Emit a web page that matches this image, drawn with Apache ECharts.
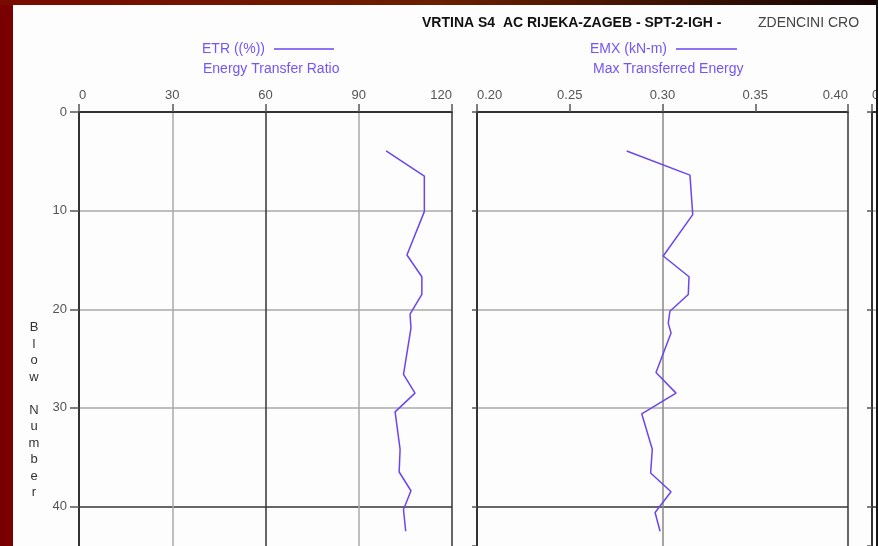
<!DOCTYPE html>
<html>
<head>
<meta charset="utf-8">
<script src="https://cdn.jsdelivr.net/npm/echarts@6/dist/echarts.min.js"></script>
<style>
html,body{margin:0;padding:0;background:#fdfdfd;}
#chart{width:878px;height:546px;}
</style>
</head>
<body>
<div id="chart"></div>
<script>
// ---- data ----
const etrBlow  = [3.95, 6.5, 10.1, 14.5, 16.7, 18.5, 20.5, 21.9, 26.6, 28.5, 30.4, 34.2, 36.5, 38.4, 40.3, 42.5];
const etrValue = [98.8, 111.1, 111.1, 105.5, 110.3, 110.3, 106.5, 106.8, 104.4, 108.1, 101.7, 103.3, 103.0, 106.8, 104.4, 105.1];

const emxBlow  = [3.95, 6.4, 10.4, 14.6, 16.7, 18.5, 20.2, 21.4, 22.4, 26.4, 28.5, 30.6, 34.2, 36.6, 38.5, 40.6, 42.5];
const emxValue = [0.2807, 0.3148, 0.3163, 0.3004, 0.3143, 0.3139, 0.3040, 0.3031, 0.3046, 0.2965, 0.3073, 0.2888, 0.2945, 0.2936, 0.3046, 0.2960, 0.2987];

const etrTicks = [0, 30, 60, 90, 120];
const emxTicks = [0.20, 0.25, 0.30, 0.35, 0.40];
const blowTicks = [0, 10, 20, 30, 40];

const titleMain = 'VRTINA S4  AC RIJEKA-ZAGEB - SPT-2-IGH -';
const titleSite = 'ZDENCINI CRO';
const etrLegend = ['ETR ((%))', 'Energy Transfer Ratio'];
const emxLegend = ['EMX (kN-m)', 'Max Transferred Energy'];
const yTitle = 'Blow Number';

// ---- chart ----
const FONT = 'Arial, "Liberation Sans", sans-serif';
const LINE = '#6a45f0';
const TXT = '#7455f5';

function zip(a, b) { return a.map((v, i) => [b[i], v]); }

function yAxisFor(grid, showLabels, tickLen) {
  return {
    type: 'value', gridIndex: grid, inverse: true,
    min: blowTicks[0], max: 44, interval: blowTicks[1] - blowTicks[0],
    axisLine: { show: true, onZero: false, lineStyle: { color: '#333', width: 2 } },
    axisTick: { show: true, length: tickLen, lineStyle: { color: '#555', width: 1.5 } },
    axisLabel: { show: showLabels, color: '#555', fontSize: 13, fontFamily: FONT, margin: 12, showMaxLabel: false },
    splitLine: { show: true, lineStyle: { color: ['#333', '#a8a8a8', '#a8a8a8', '#a8a8a8', '#333', 'transparent'], width: 1.5 } }
  };
}

function xLabel(extra) {
  return Object.assign({ color: '#555', fontSize: 13, fontFamily: FONT, margin: 10,
    alignMinLabel: 'left', alignMaxLabel: 'right' }, extra || {});
}

const yLetters = yTitle.split('').map(c => c === ' ' ? '' : c).join('\n');

const option = {
  animation: false,
  backgroundColor: '#fdfdfd',
  grid: [
    { left: 79, top: 112, width: 373, height: 435 },
    { left: 477, top: 112, width: 371, height: 435 },
    { left: 872, top: 112, width: 300, height: 435 }
  ],
  xAxis: [
    {
      type: 'value', gridIndex: 0, position: 'top',
      min: etrTicks[0], max: etrTicks[etrTicks.length - 1], interval: etrTicks[1] - etrTicks[0],
      axisLine: { show: true, onZero: false, lineStyle: { color: '#333', width: 2 } },
      axisTick: { show: true, length: 8, lineStyle: { color: '#555', width: 1.5 } },
      axisLabel: xLabel(),
      splitLine: { show: true, lineStyle: { color: ['#333', '#a8a8a8'], width: 1.5 } }
    },
    {
      type: 'value', gridIndex: 1, position: 'top',
      min: emxTicks[0], max: emxTicks[emxTicks.length - 1], interval: 0.05,
      axisLine: { show: true, onZero: false, lineStyle: { color: '#333', width: 2 } },
      axisTick: { show: true, length: 8, lineStyle: { color: '#555', width: 1.5 } },
      axisLabel: xLabel({ formatter: v => v.toFixed(2) }),
      splitLine: { show: true, lineStyle: { color: ['#333', 'transparent', '#888', 'transparent', '#333'], width: 1.5 } }
    },
    {
      type: 'value', gridIndex: 2, position: 'top',
      min: 0, max: 120, interval: 30,
      axisLine: { show: true, onZero: false, lineStyle: { color: '#333', width: 2 } },
      axisTick: { show: true, length: 8, lineStyle: { color: '#555', width: 1.5 } },
      axisLabel: xLabel(),
      splitLine: { show: true, lineStyle: { color: ['#333', '#a8a8a8'], width: 1.5 } }
    }
  ],
  yAxis: [yAxisFor(0, true, 9), yAxisFor(1, false, 5), yAxisFor(2, false, 5)],
  series: [
    {
      name: 'ETR', type: 'line', xAxisIndex: 0, yAxisIndex: 0,
      data: zip(etrBlow, etrValue), symbol: 'none',
      lineStyle: { color: LINE, width: 1.5 }, z: 5
    },
    {
      name: 'EMX', type: 'line', xAxisIndex: 1, yAxisIndex: 1,
      data: zip(emxBlow, emxValue), symbol: 'none',
      lineStyle: { color: LINE, width: 1.5 }, z: 5
    }
  ],
  graphic: [
    // frame
    { type: 'rect', left: 0, top: 0, z: 100, shape: { width: 13, height: 546 }, style: { fill: '#780000' } },
    { type: 'rect', left: 0, top: 0, z: 100, shape: { width: 878, height: 5 },
      style: { fill: new echarts.graphic.LinearGradient(0, 0, 1, 0, [
        { offset: 0, color: '#7a0a00' }, { offset: 0.5, color: '#6a2000' }, { offset: 1, color: '#150505' }]) } },
    { type: 'rect', left: 876, top: 0, z: 100, shape: { width: 2, height: 546 }, style: { fill: '#151515' } },
    // titles
    { type: 'text', x: 422, y: 23, z: 50, style: { text: titleMain, fill: '#111', font: 'bold 14px ' + FONT, verticalAlign: 'middle' } },
    { type: 'text', x: 758, y: 23, z: 50, style: { text: titleSite, fill: '#444', font: '14px ' + FONT, verticalAlign: 'middle' } },
    // legends
    { type: 'text', x: 202, y: 49, z: 50, style: { text: etrLegend[0], fill: TXT, font: '14px ' + FONT, verticalAlign: 'middle' } },
    { type: 'line', z: 50, shape: { x1: 274, y1: 49, x2: 334, y2: 49 }, style: { stroke: LINE, lineWidth: 1.5 } },
    { type: 'text', x: 203, y: 69, z: 50, style: { text: etrLegend[1], fill: TXT, font: '14px ' + FONT, verticalAlign: 'middle' } },
    { type: 'text', x: 590, y: 49, z: 50, style: { text: emxLegend[0], fill: TXT, font: '14px ' + FONT, verticalAlign: 'middle' } },
    { type: 'line', z: 50, shape: { x1: 676, y1: 49, x2: 737, y2: 49 }, style: { stroke: LINE, lineWidth: 1.5 } },
    { type: 'text', x: 593, y: 69, z: 50, style: { text: emxLegend[1], fill: TXT, font: '14px ' + FONT, verticalAlign: 'middle' } },
    // y-axis title, stacked letters
    { type: 'text', x: 34, y: 410, z: 50, style: { text: yLetters, fill: '#333', font: '13px ' + FONT, lineHeight: 16.5, align: 'center', verticalAlign: 'middle' } }
  ]
};

const chart = echarts.init(document.getElementById('chart'), null, { renderer: 'canvas' });
chart.setOption(option);
</script>
</body>
</html>
